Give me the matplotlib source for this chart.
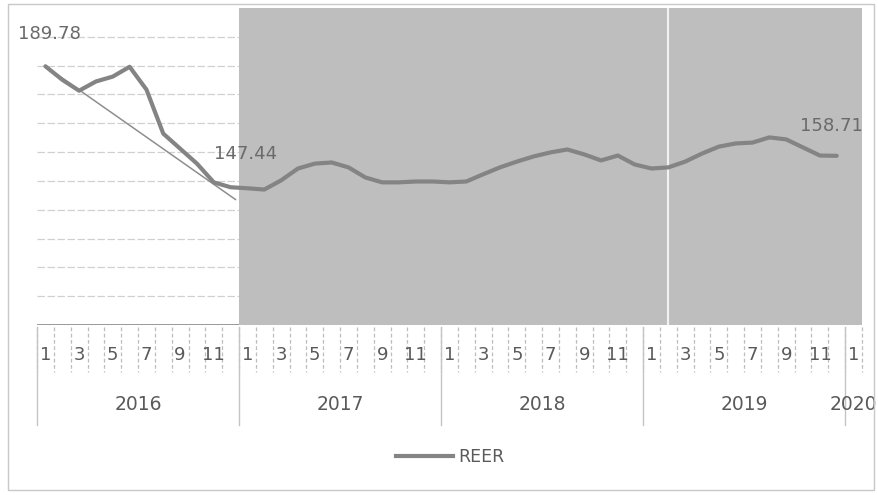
import numpy as np
import matplotlib
matplotlib.use("Agg")
import matplotlib.pyplot as plt
import matplotlib.transforms as mtransforms
from matplotlib.lines import Line2D

plt.rcParams['font.family'] = ['DejaVu Sans']

# ---- data ----
years = [2016, 2017, 2018, 2019, 2020]
months = [m for y in years[:-1] for m in range(1, 13)] + [1]
year_of = [y for y in years[:-1] for _ in range(12)] + [2020]
reer = [189.78, 185.1, 181.3, 184.5, 186.2, 189.6, 181.7, 166.4, 161.2, 156.0, 149.5, 147.8,
        147.44, 147.0, 150.2, 154.3, 156.0, 156.4, 154.7, 151.2, 149.5, 149.5, 149.8, 149.8,
        149.5, 149.8, 152.3, 154.7, 156.7, 158.5, 159.9, 160.9, 159.2, 157.1, 158.8, 155.7,
        154.3, 154.7, 156.7, 159.5, 161.9, 163.0, 163.3, 165.1, 164.4, 161.6, 158.8, 158.71,
        np.nan]
trend_x = [0, 11.3]
trend_y = [189.78, 143.5]
labelled = {0: "189.78", 12: "147.44", 47: "158.71"}
label_offsets = {0: (4, 32), 12: (-2, 34), 47: (-5, 30)}

W, H = 879, 495
fig = plt.figure(figsize=(W / 100, H / 100), dpi=100)
fig.patch.set_facecolor('white')
L, R, T, B = 37, 862, 8, 325
ax = fig.add_axes([L / W, 1 - B / H, (R - L) / W, (B - T) / H])
n = len(months)
x = np.arange(n)
ax.set_xlim(-0.5, n - 0.5)
ax.set_ylim(100, 210)
for s in ax.spines.values():
    s.set_visible(False)
ax.set_xticks([])
ax.set_yticks([])

# gridlines
for gy in range(110, 210, 10):
    ax.axhline(gy, color='#d0d0d0', lw=0.9, ls=(0, (6, 2)), zorder=0.5)
ax.axhline(100, color='#9a9a9a', lw=1.4, zorder=0.6)

# shaded band (2017 onwards)
ax.axvspan(11.5, n - 0.5, color='#bebebe', zorder=1, lw=0)
ax.axvline(37, color='#f2f2f2', lw=1.5, zorder=2)

# series
ax.plot(trend_x, trend_y, color='#8e8e8e', lw=1.1, zorder=3, solid_capstyle='round')
ax.plot(x, reer, color='#848484', lw=3.0, zorder=4, solid_capstyle='round',
        solid_joinstyle='round', label='REER')

for i, txt in labelled.items():
    ax.annotate(txt, xy=(i, reer[i]), xytext=label_offsets[i], textcoords='offset pixels',
                ha='center', va='center', fontsize=13, color='#6a6a6a', zorder=5)

# category axis (two levels)
tr = mtransforms.blended_transform_factory(ax.transData, fig.transFigure)
def fy(py):
    return 1 - py / H

for b in np.arange(-0.5, n, 1.0):
    ax.plot([b, b], [fy(327), fy(372)], transform=tr, clip_on=False,
            color='#bdbdbd', lw=0.9, ls=(0, (3, 2)))
for b in [-0.5, 11.5, 23.5, 35.5, 47.5]:
    ax.plot([b, b], [fy(327), fy(425)], transform=tr, clip_on=False,
            color='#c4c4c4', lw=1.0)

for i, m in enumerate(months):
    if m % 2 == 1:
        ax.text(i, fy(355), str(m), transform=tr, ha='center', va='center',
                fontsize=13, color='#5a5a5a')
for yv in years:
    idx = [i for i, yy in enumerate(year_of) if yy == yv]
    ax.text(np.mean(idx), fy(405), str(yv), transform=tr, ha='center', va='center',
            fontsize=13.5, color='#5a5a5a')

# legend
fig.legend(handles=[Line2D([0], [0], color='#848484', lw=3.0)], labels=['REER'],
           loc='center', bbox_to_anchor=(450 / W, fy(457)), frameon=False,
           handlelength=3.3, handletextpad=0.3, fontsize=12.5, labelcolor='#5a5a5a')

# outer frame
fig.add_artist(plt.Rectangle((8 / W, 1 - 490 / H), (874 - 8) / W, (490 - 4) / H,
                             transform=fig.transFigure, fill=False,
                             edgecolor='#c8c8c8', lw=1.0))

fig.savefig('out.png', dpi=100, facecolor='white')
